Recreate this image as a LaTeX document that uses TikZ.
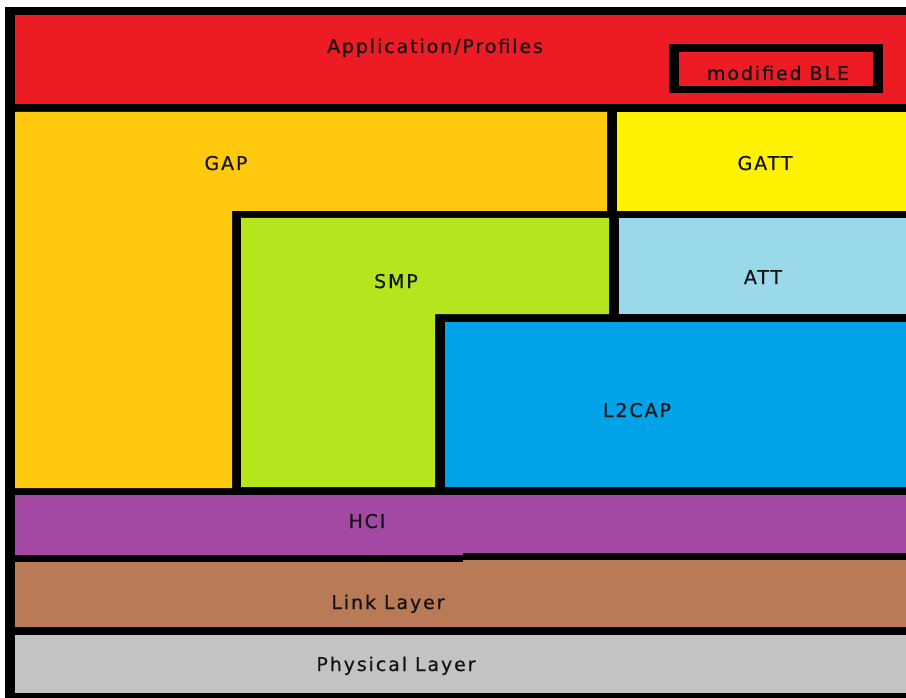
\documentclass[tikz,border=0pt]{standalone}
\usepackage{fontspec}
\setmainfont{DejaVu Sans}[LetterSpace=10, FakeBold=0.6]
\definecolor{appred}{HTML}{ED1C24}
\definecolor{gaporange}{HTML}{FFC90E}
\definecolor{gattyellow}{HTML}{FFF200}
\definecolor{attblue}{HTML}{99D9EA}
\definecolor{smpgreen}{HTML}{B5E61D}
\definecolor{l2capblue}{HTML}{00A2E8}
\definecolor{hcipurple}{HTML}{A349A4}
\definecolor{linkbrown}{HTML}{B97A57}
\definecolor{phygray}{HTML}{C3C3C3}
\definecolor{labelink}{HTML}{141414}
\tikzset{
  layertext/.style={text=labelink, font=\fontsize{19}{22}\selectfont, inner sep=0pt, anchor=base}
}
\begin{document}
\begin{tikzpicture}[x=1pt, y=-1pt]
\useasboundingbox (0,0) rectangle (906,698);
\fill[white] (0,0) rectangle (906,698);
% black frame; the gaps between the layers show it as thick rules
\fill[black] (5,7) rectangle (906,698);
% Application/Profiles
\fill[appred] (15,15) rectangle (906,104);
\fill[black] (669,44) rectangle (883,93);
\fill[appred] (679,52) rectangle (873,86);
% GAP (L-shaped)
\fill[gaporange] (15,112) -- (607,112) -- (607,211) -- (232,211) -- (232,488) -- (15,488) -- cycle;
% GATT
\fill[gattyellow] (617,112) rectangle (906,211);
% SMP (L-shaped)
\fill[smpgreen] (241,218) -- (609,218) -- (609,314) -- (435,314) -- (435,487) -- (241,487) -- cycle;
% ATT
\fill[attblue] (619,218) rectangle (906,314);
% L2CAP
\fill[l2capblue] (445,322) rectangle (906,487);
% HCI
\fill[hcipurple] (15,495) -- (906,495) -- (906,553) -- (463,553) -- (463,555) -- (15,555) -- cycle;
% Link Layer
\fill[linkbrown] (15,562) -- (463,562) -- (463,560) -- (906,560) -- (906,627) -- (15,627) -- cycle;
% Physical Layer
\fill[phygray] (15,635) rectangle (906,693);
% labels (placed by baseline)
\node[layertext] (app) at (435,53) {Application/Profiles};
\node[layertext] (ble) at (778,80) {modified BLE};
\node[layertext] (gap) at (226,170) {GAP};
\node[layertext] (gatt) at (765,170) {GATT};
\node[layertext] (smp) at (396,288) {SMP};
\node[layertext] (att) at (763,284) {ATT};
\node[layertext] (l2cap) at (637,417) {L2CAP};
\node[layertext] (hci) at (367,528) {HCI};
\node[layertext] (link) at (388,609) {Link Layer};
\node[layertext] (phy) at (396,671) {Physical Layer};
\end{tikzpicture}
\end{document}
